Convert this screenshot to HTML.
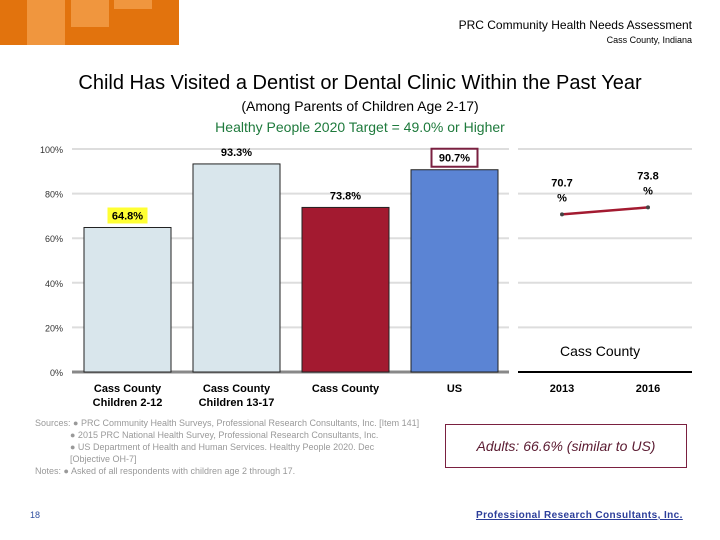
<!DOCTYPE html>
<html><head><meta charset="utf-8"><style>
body{margin:0;width:720px;height:540px;background:#fff;font-family:"Liberation Sans",sans-serif;position:relative;overflow:hidden}
.a{position:absolute}
</style></head><body>
<div class="a" style="left:0;top:0;width:179px;height:45px;background:#e2730d">
 <div class="a" style="left:27px;top:0;width:38px;height:45px;background:#f0963e"></div>
 <div class="a" style="left:71px;top:0;width:38px;height:27px;background:#f0963e"></div>
 <div class="a" style="left:114px;top:0;width:38px;height:9px;background:#f0963e"></div>
</div>
<div class="a" style="right:28px;top:18px;font-size:12px">PRC Community Health Needs Assessment</div>
<div class="a" style="right:28px;top:35px;font-size:9px">Cass County, Indiana</div>
<div class="a" style="left:0;width:720px;text-align:center;top:72px;font-size:20px">Child Has Visited a Dentist or Dental Clinic Within the Past Year</div>
<div class="a" style="left:0;width:720px;text-align:center;top:98px;font-size:14px">(Among Parents of Children Age 2-17)</div>
<div class="a" style="left:0;width:720px;text-align:center;top:119px;font-size:14px;color:#1e7a3c">Healthy People 2020 Target = 49.0% or Higher</div>
<svg class="a" style="left:0;top:0" width="720" height="540" id="chart"></svg>
<div class="a" style="left:560px;top:343px;font-size:14px">Cass County</div>
<div class="a" style="left:35px;top:417px;font-size:9px;color:#999;line-height:12px;white-space:nowrap">Sources: ● PRC Community Health Surveys, Professional Research Consultants, Inc. [Item 141]<br>
<span style="padding-left:35px">● 2015 PRC National Health Survey, Professional Research Consultants, Inc.</span><br>
<span style="padding-left:35px">● US Department of Health and Human Services. Healthy People 2020. Dec</span><br>
<span style="padding-left:35px">[Objective OH-7]</span><br>Notes: ● Asked of all respondents with children age 2 through 17.</div>
<div class="a" style="left:445px;top:424px;width:240px;height:42px;border:1px solid #7a2040;background:#fff;display:flex;align-items:center;justify-content:center;font-size:14px;font-style:italic;color:#5a1a30;white-space:nowrap">Adults: 66.6% (similar to US)</div>
<div class="a" style="left:30px;top:510px;font-size:9px;color:#3050a0">18</div>
<div class="a" style="left:476px;top:510px;font-size:10px;font-weight:bold;color:#2c3e9a;text-decoration:underline;letter-spacing:0.4px;white-space:nowrap">Professional Research Consultants, Inc.</div>
<script>
const categories=["Cass County\nChildren 2-12","Cass County\nChildren 13-17","Cass County","US"];
const values=[64.8,93.3,73.8,90.7];
const colors=["#d9e6ec","#d9e6ec","#a31a30","#5b84d4"];
const years=["2013","2016"];
const trend=[70.7,73.8];
const ticks=[0,20,40,60,80,100];
const NS="http://www.w3.org/2000/svg",svg=document.getElementById('chart');
const y=v=>372-v*2.23;
function mk(t,a,txt){const e=document.createElementNS(NS,t);for(const k in a)e.setAttribute(k,a[k]);if(txt!=null)e.textContent=txt;svg.appendChild(e);return e;}
ticks.forEach(t=>{
 const g=mk('line',{x1:72,x2:509,y1:y(t),y2:y(t),stroke:t?'#ddd':'#888','stroke-width':t?2:3});
 
 const g2=mk('line',{x1:518,x2:692,y1:y(t),y2:y(t),stroke:t?'#ddd':'#000','stroke-width':2});
 
 const l=mk('text',{x:63,y:y(t)+4,'text-anchor':'end','font-size':9,fill:'#333'},t+'%');
 
});
const bx=[84,193,302,411],bw=87;
values.forEach((v,i)=>{
 const r=mk('rect',{x:bx[i],y:y(v),width:bw,height:372-y(v),fill:colors[i],stroke:'#222','stroke-width':1});
 
 const cx=bx[i]+bw/2,ly=y(v)-8;
 if(i==0){const h=mk('rect',{x:cx-20,y:ly-12,width:40,height:16,fill:'#ffff33'});}
 if(i==3){const h=mk('rect',{x:cx-23,y:ly-13,width:46,height:18,fill:'#fff',stroke:'#7a2040','stroke-width':2});}
 const t=mk('text',{x:cx,y:ly,'text-anchor':'middle','font-size':11,'font-weight':'bold'},v.toFixed(1)+'%');
 
 categories[i].split('\n').forEach((s,j)=>{const c=mk('text',{x:cx,y:392+j*14,'text-anchor':'middle','font-size':11,'font-weight':'bold'},s);
 });
});
const tx=[562,648];
const pl=mk('polyline',{points:trend.map((v,i)=>tx[i]+','+y(v)).join(' '),fill:'none',stroke:'#a31a30','stroke-width':2.5});

trend.forEach((v,i)=>{
 const c=mk('circle',{cx:tx[i],cy:y(v),r:2,fill:'#444'});
 const a=mk('text',{x:tx[i],y:y(v)-28,'text-anchor':'middle','font-size':11,'font-weight':'bold'},v.toFixed(1));
 
 const b=mk('text',{x:tx[i],y:y(v)-13,'text-anchor':'middle','font-size':11,'font-weight':'bold'},'%');
 
 const yl=mk('text',{x:tx[i],y:392,'text-anchor':'middle','font-size':11,'font-weight':'bold'},years[i]);
 
});
</script>
</body></html>
